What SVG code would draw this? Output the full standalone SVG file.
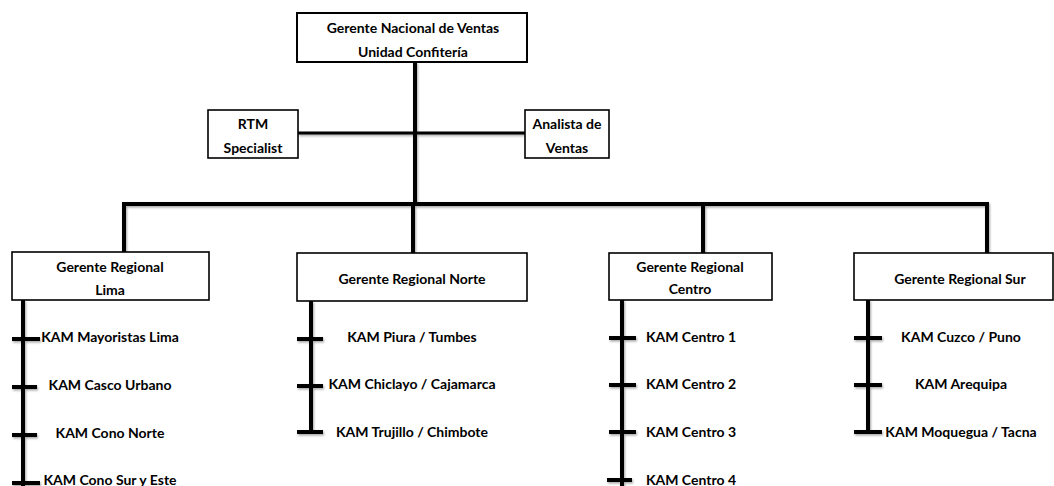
<svg xmlns="http://www.w3.org/2000/svg" width="1054" height="486" viewBox="0 0 1054 486">
  <defs>
    <filter id="shadow" x="-10%" y="-10%" width="120%" height="120%">
      <feDropShadow dx="1" dy="1.5" stdDeviation="0.8" flood-color="#000" flood-opacity="0.35"/>
    </filter>
  </defs>
  <style>
    .box { fill: #fff; stroke: #000; stroke-width: 1.6; }
    .box.top { stroke-width: 2; }
    .lbl { font-family: Lato, "Liberation Sans", sans-serif; font-weight: bold; font-size: 14px; fill: #000; text-anchor: middle; }
    .wire { stroke: #000; stroke-width: 4; fill: none; stroke-linecap: butt; }
    .thin { stroke-width: 3; }
  </style>

  <!-- connectors -->
  <g id="connectors" filter="url(#shadow)">
    <!-- trunk from the national manager down to the regional bus -->
    <line class="wire" x1="415" y1="62" x2="415" y2="205"/>
    <!-- staff branch -->
    <line class="wire thin" x1="298" y1="133" x2="525" y2="133"/>
    <!-- regional bus and drops -->
    <polyline class="wire" points="124,252 124,204 987,204 987,253"/>
    <line class="wire" x1="413" y1="204" x2="413" y2="253"/>
    <line class="wire" x1="703" y1="204" x2="703" y2="253"/>

    <!-- Lima accounts -->
    <line class="wire" x1="23" y1="300" x2="23" y2="486"/>
    <line class="wire" x1="12" y1="339" x2="40" y2="339"/>
    <line class="wire" x1="12" y1="387" x2="37" y2="387"/>
    <line class="wire" x1="12" y1="435" x2="37" y2="435"/>
    <line class="wire" x1="12" y1="483" x2="40" y2="483"/>

    <!-- Norte accounts -->
    <line class="wire" x1="311" y1="301" x2="311" y2="433"/>
    <line class="wire" x1="297" y1="339" x2="323" y2="339"/>
    <line class="wire" x1="297" y1="386" x2="323" y2="386"/>
    <line class="wire" x1="297" y1="432" x2="323" y2="432"/>

    <!-- Centro accounts -->
    <line class="wire" x1="622" y1="300" x2="622" y2="486"/>
    <line class="wire" x1="609" y1="338" x2="636" y2="338"/>
    <line class="wire" x1="609" y1="385" x2="636" y2="385"/>
    <line class="wire" x1="609" y1="432" x2="636" y2="432"/>
    <line class="wire" x1="607" y1="480" x2="632" y2="480"/>

    <!-- Sur accounts -->
    <line class="wire" x1="868" y1="300" x2="868" y2="433"/>
    <line class="wire" x1="854" y1="338" x2="882" y2="338"/>
    <line class="wire" x1="854" y1="385" x2="882" y2="385"/>
    <line class="wire" x1="854" y1="432" x2="882" y2="432"/>
  </g>

  <!-- national manager -->
  <g id="gerente-nacional">
    <rect class="box top" x="297" y="13" width="230" height="49"/>
    <text class="lbl" x="413" y="33">Gerente Nacional de Ventas</text>
    <text class="lbl" x="413" y="57">Unidad Confitería</text>
  </g>

  <!-- staff roles -->
  <g id="rtm-specialist">
    <rect class="box" x="208" y="110" width="90" height="48"/>
    <text class="lbl" x="253" y="129">RTM</text>
    <text class="lbl" x="253" y="153">Specialist</text>
  </g>
  <g id="analista-ventas">
    <rect class="box" x="525" y="110" width="84" height="48"/>
    <text class="lbl" x="567" y="129">Analista de</text>
    <text class="lbl" x="567" y="153">Ventas</text>
  </g>

  <!-- regional managers -->
  <g id="gerente-lima">
    <rect class="box" x="12" y="252" width="197" height="48"/>
    <text class="lbl" x="110" y="272">Gerente Regional</text>
    <text class="lbl" x="110" y="295">Lima</text>
  </g>
  <g id="gerente-norte">
    <rect class="box" x="297" y="253" width="230" height="48"/>
    <text class="lbl" x="412" y="284">Gerente Regional Norte</text>
  </g>
  <g id="gerente-centro">
    <rect class="box" x="609" y="253" width="163" height="47"/>
    <text class="lbl" x="690" y="272">Gerente Regional</text>
    <text class="lbl" x="690" y="294">Centro</text>
  </g>
  <g id="gerente-sur">
    <rect class="box" x="854" y="253" width="199" height="47"/>
    <text class="lbl" x="960" y="284">Gerente Regional Sur</text>
  </g>

  <!-- key accounts: Lima -->
  <g id="kam-lima">
    <text class="lbl" x="110" y="342">KAM Mayoristas Lima</text>
    <text class="lbl" x="110" y="390">KAM Casco Urbano</text>
    <text class="lbl" x="110" y="438">KAM Cono Norte</text>
    <text class="lbl" x="110" y="485">KAM Cono Sur y Este</text>
  </g>
  <!-- key accounts: Norte -->
  <g id="kam-norte">
    <text class="lbl" x="412" y="342">KAM Piura / Tumbes</text>
    <text class="lbl" x="412" y="389">KAM Chiclayo / Cajamarca</text>
    <text class="lbl" x="412" y="437">KAM Trujillo / Chimbote</text>
  </g>
  <!-- key accounts: Centro -->
  <g id="kam-centro">
    <text class="lbl" x="691" y="342">KAM Centro 1</text>
    <text class="lbl" x="691" y="389">KAM Centro 2</text>
    <text class="lbl" x="691" y="437">KAM Centro 3</text>
    <text class="lbl" x="691" y="485">KAM Centro 4</text>
  </g>
  <!-- key accounts: Sur -->
  <g id="kam-sur">
    <text class="lbl" x="961" y="342">KAM Cuzco / Puno</text>
    <text class="lbl" x="961" y="389">KAM Arequipa</text>
    <text class="lbl" x="961" y="437">KAM Moquegua / Tacna</text>
  </g>
</svg>
